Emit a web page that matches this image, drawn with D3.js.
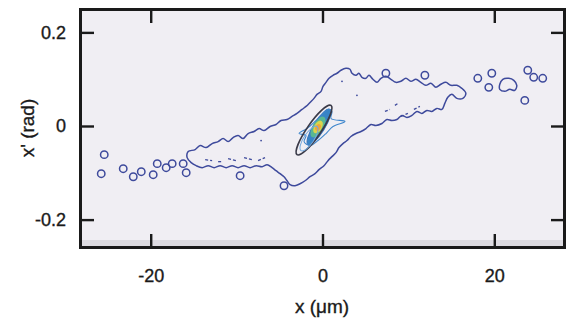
<!DOCTYPE html>
<html>
<head>
<meta charset="utf-8">
<script src="https://cdn.jsdelivr.net/npm/d3@7"></script>
<style>
  html, body { margin: 0; padding: 0; background: #fff; }
  text { font-family: "Liberation Sans", Arial, sans-serif; fill: #1a1a1a; stroke: #1a1a1a; stroke-width: 0.35px; }
</style>
</head>
<body>
<div id="chart"></div>
<script>
// phase-space outline of the beam, x in um, x' in rad
const bandX = [-15.64,-14.83,-14.24,-13.55,-12.85,-12.15,-11.57,-10.99,-10.41,-9.83,-9.24,-8.66,-7.97,-7.38,-6.80,-6.10,-5.41,-4.83,-4.13,-3.55,-2.97,-2.38,-1.92,-1.45,-0.99,-0.64,-0.17,0.06,0.41,0.76,1.22,1.69,2.15,2.73,3.20,3.43,3.90,4.24,4.59,5.06,5.41,5.87,6.34,6.80,7.38,7.97,8.55,9.13,9.71,10.29,10.87,11.45,12.03,12.62,13.20,13.78,14.36,14.94,15.64,16.22,16.69,16.34,15.64,15.06,14.59,14.24,13.90,13.31,12.73,12.15,11.57,10.99,10.41,9.83,9.24,8.66,8.08,7.50,6.92,6.22,5.64,5.06,4.48,3.90,3.31,2.85,2.38,1.92,1.57,1.10,0.64,0.17,-0.41,-0.87,-1.45,-2.03,-2.62,-3.20,-3.78,-4.13,-4.48,-4.94,-5.41,-5.87,-6.45,-7.03,-7.73,-8.43,-9.13,-9.83,-10.52,-11.22,-11.92,-12.62,-13.31,-14.01,-14.71,-15.29,-15.76];
const bandY = [-0.0547,-0.0504,-0.0418,-0.0461,-0.0376,-0.0333,-0.0268,-0.0333,-0.0247,-0.0204,-0.0268,-0.0161,-0.0118,-0.0054,-0.0097,-0.0011,0.0032,0.0118,0.0139,0.0204,0.0268,0.0354,0.0418,0.0504,0.0590,0.0676,0.0740,0.0848,0.0933,0.1019,0.1084,0.1127,0.1191,0.1234,0.1212,0.1127,0.1084,0.1127,0.1041,0.1019,0.1084,0.0998,0.0933,0.1019,0.1062,0.0998,0.0933,0.0955,0.1019,0.0955,0.0998,0.0933,0.0869,0.0912,0.0826,0.0891,0.0933,0.0869,0.0869,0.0805,0.0697,0.0590,0.0590,0.0676,0.0612,0.0483,0.0354,0.0376,0.0311,0.0333,0.0268,0.0311,0.0225,0.0182,0.0225,0.0139,0.0118,0.0139,0.0054,0.0011,0.0032,-0.0054,-0.0118,-0.0161,-0.0225,-0.0311,-0.0376,-0.0461,-0.0569,-0.0655,-0.0740,-0.0848,-0.0933,-0.1019,-0.1084,-0.1170,-0.1234,-0.1277,-0.1255,-0.1170,-0.1084,-0.1019,-0.0955,-0.0891,-0.0826,-0.0869,-0.0848,-0.0891,-0.0848,-0.0891,-0.0848,-0.0891,-0.0848,-0.0891,-0.0848,-0.0891,-0.0848,-0.0783,-0.0676];

// small island on the right
const blobX = [20.64,20.99,21.69,22.27,22.62,22.38,21.80,21.22,20.64];
const blobY = [0.0891,0.0998,0.1019,0.0976,0.0869,0.0762,0.0783,0.0740,0.0783];

// isolated single-particle rings
const ringX = [-25.41,-25.76,-23.20,-22.03,-21.10,-19.71,-19.24,-18.20,-17.50,-16.22,-15.87,-9.59,-4.48,7.38,11.92,18.08,19.71,19.36,23.90,24.59,25.64,23.55];
const ringY = [-0.0612,-0.1019,-0.0912,-0.1084,-0.0976,-0.1041,-0.0805,-0.0891,-0.0805,-0.0805,-0.0998,-0.1062,-0.1277,0.1127,0.1084,0.1019,0.1127,0.0826,0.1191,0.1041,0.1019,0.0547];

// broken contour fragments inside the band [x1, y1, x2, y2]
const frags = [
  [-13.66,-0.0719,-12.85,-0.0740],
  [-12.15,-0.0762,-11.69,-0.0762],
  [-10.99,-0.0697,-10.06,-0.0740],
  [-9.13,-0.0676,-8.20,-0.0719],
  [-7.50,-0.0740,-6.69,-0.0676],
  [7.27,0.0311,7.85,0.0354],
  [8.43,0.0440,8.78,0.0483],
  [9.13,0.0204,9.94,0.0268],
  [10.64,0.0354,11.34,0.0418]
];
const dotX = [2.27, 4.01, -7.15];
const dotY = [0.0955, 0.0655, -0.0311];

// wing contour around the core
const wingX = [-2.73,-1.80,-0.87,-0.06,0.64,1.10,0.99,2.62,1.22,0.41,-0.52,-1.45,-2.15,-1.92];
const wingY = [-0.0161,-0.0054,0.0097,0.0247,0.0354,0.0311,0.0161,0.0097,-0.0011,-0.0161,-0.0311,-0.0418,-0.0333,-0.0204];

// core levels: centre, half major axis (data units), minor/major ratio
const coreName = ["outer", "faint", "blue", "green", "yellow", "orange"];
const coreCx = [-0.99, -1.57, -0.41, -0.52, -0.52, -0.52];
const coreCy = [-0.0086, -0.0268, -0.0021, -0.0021, -0.0021, -0.0032];
const coreDx = [1.98, 0.93, 1.28, 0.70, 0.41, 0.23];
const coreDy = [0.0526, 0.0258, 0.0376, 0.0215, 0.0129, 0.0064];
const coreRatio = [0.23, 0.35, 0.27, 0.45, 0.55, 0.7];

const xTicks = [-20, 0, 20];
const yTicks = [-0.2, 0, 0.2];

const W = 567, H = 320;
const L = 82, R = 563, T = 11, B = 246;

const x = d3.scaleLinear().domain([-28, 28]).range([L, R]);
const y = d3.scaleLinear().domain([-0.2564, 0.2457]).range([B, T]);

const svg = d3.select("#chart").append("svg")
  .attr("width", W).attr("height", H);

svg.append("rect").attr("x", L).attr("y", T).attr("width", R - L).attr("height", B - T)
  .attr("fill", "#f0eef3");
svg.append("rect").attr("x", L).attr("y", B - 6).attr("width", R - L).attr("height", 6)
  .attr("fill", "#dddbe1");

svg.append("clipPath").attr("id", "plot").append("rect")
  .attr("x", L).attr("y", T).attr("width", R - L).attr("height", B - T);

const g = svg.append("g").attr("clip-path", "url(#plot)");
const lineCol = "#3e4a9c";

const closed = d3.line().x(d => x(d[0])).y(d => y(d[1])).curve(d3.curveCatmullRomClosed.alpha(0.5));

g.append("path")
  .attr("d", closed(bandX.map((v, i) => [v, bandY[i]])))
  .attr("fill", "none").attr("stroke", lineCol).attr("stroke-width", 1.5);

g.append("path")
  .attr("d", closed(blobX.map((v, i) => [v, blobY[i]])))
  .attr("fill", "none").attr("stroke", lineCol).attr("stroke-width", 1.5);

g.selectAll("circle.ring").data(ringX.map((v, i) => [v, ringY[i]])).join("circle")
  .attr("class", "ring")
  .attr("cx", d => x(d[0])).attr("cy", d => y(d[1])).attr("r", 3.7)
  .attr("fill", "none").attr("stroke", lineCol).attr("stroke-width", 1.5);

g.selectAll("line.frag").data(frags).join("line")
  .attr("class", "frag")
  .attr("x1", d => x(d[0])).attr("y1", d => y(d[1]))
  .attr("x2", d => x(d[2])).attr("y2", d => y(d[3]))
  .attr("stroke", lineCol).attr("stroke-width", 1.3).attr("stroke-dasharray", "3,2");

g.selectAll("circle.dot").data(dotX.map((v, i) => [v, dotY[i]])).join("circle")
  .attr("class", "dot")
  .attr("cx", d => x(d[0])).attr("cy", d => y(d[1])).attr("r", 0.9)
  .attr("fill", lineCol);

// core ellipses
const coreFill = ["none", "none", "#2f7fc4", "#5bb98f", "#e2d548", "#f0a23a"];
const coreStroke = ["#3a3a48", "#74a8dc", "#2f6fb8", "none", "none", "none"];
const coreWidth = [1.7, 1, 1, 0, 0, 0];

function ellipse(i) {
  const px = x(coreCx[i]), py = y(coreCy[i]);
  const vx = x(coreCx[i] + coreDx[i]) - px, vy = y(coreCy[i] + coreDy[i]) - py;
  const len = Math.hypot(vx, vy);
  return { px, py, rx: len, ry: len * coreRatio[i], ang: Math.atan2(vy, vx) * 180 / Math.PI };
}

[2, 3, 4, 5].forEach(i => {
  const e = ellipse(i);
  g.append("ellipse").attr("cx", 0).attr("cy", 0).attr("rx", e.rx).attr("ry", e.ry)
    .attr("transform", `translate(${e.px},${e.py}) rotate(${e.ang})`)
    .attr("fill", coreFill[i]).attr("stroke", coreStroke[i]).attr("stroke-width", coreWidth[i])
    .attr("opacity", 0.95);
});

g.append("path")
  .attr("d", closed(wingX.map((v, i) => [v, wingY[i]])))
  .attr("fill", "none").attr("stroke", "#3f86cc").attr("stroke-width", 1.1);

[0, 1].forEach(i => {
  const e = ellipse(i);
  g.append("ellipse").attr("cx", 0).attr("cy", 0).attr("rx", e.rx).attr("ry", e.ry)
    .attr("transform", `translate(${e.px},${e.py}) rotate(${e.ang})`)
    .attr("fill", coreFill[i]).attr("stroke", coreStroke[i]).attr("stroke-width", coreWidth[i]);
});

// axes with inward ticks
const fmt = d => d === 0 ? "0" : String(d);
const tickStyle = sel => {
  sel.select(".domain").remove();
  sel.selectAll(".tick line").attr("stroke", "#1a1a1a").attr("stroke-width", 2.4);
  sel.selectAll(".tick text").attr("font-size", 18).attr("fill", "#1a1a1a")
    .attr("font-family", "Liberation Sans, Arial, sans-serif");
};

svg.append("g").attr("transform", `translate(0,${B})`)
  .call(d3.axisBottom(x).tickValues(xTicks).tickFormat(fmt).tickSizeInner(-12).tickSizeOuter(0).tickPadding(23))
  .call(tickStyle);
svg.append("g").attr("transform", `translate(0,${T})`)
  .call(d3.axisTop(x).tickValues(xTicks).tickFormat("").tickSizeInner(-12).tickSizeOuter(0))
  .call(tickStyle);
svg.append("g").attr("transform", `translate(${L},0)`)
  .call(d3.axisLeft(y).tickValues(yTicks).tickFormat(fmt).tickSizeInner(-12).tickSizeOuter(0).tickPadding(16))
  .call(tickStyle);
svg.append("g").attr("transform", `translate(${R},0)`)
  .call(d3.axisRight(y).tickValues(yTicks).tickFormat("").tickSizeInner(-12).tickSizeOuter(0))
  .call(tickStyle);

// frame
svg.append("rect").attr("x", L - 1.5).attr("y", T - 1.5).attr("width", R - L + 3).attr("height", B - T + 3)
  .attr("fill", "none").attr("stroke", "#1a1a1a").attr("stroke-width", 3);

svg.append("text").attr("x", (L + R) / 2 - 0.5).attr("y", 313)
  .attr("text-anchor", "middle").attr("font-size", 19).text("x (\u03bcm)");

svg.append("text").attr("transform", "translate(34,128) rotate(-90)")
  .attr("text-anchor", "middle").attr("font-size", 19).text("x' (rad)");
</script>
</body>
</html>
